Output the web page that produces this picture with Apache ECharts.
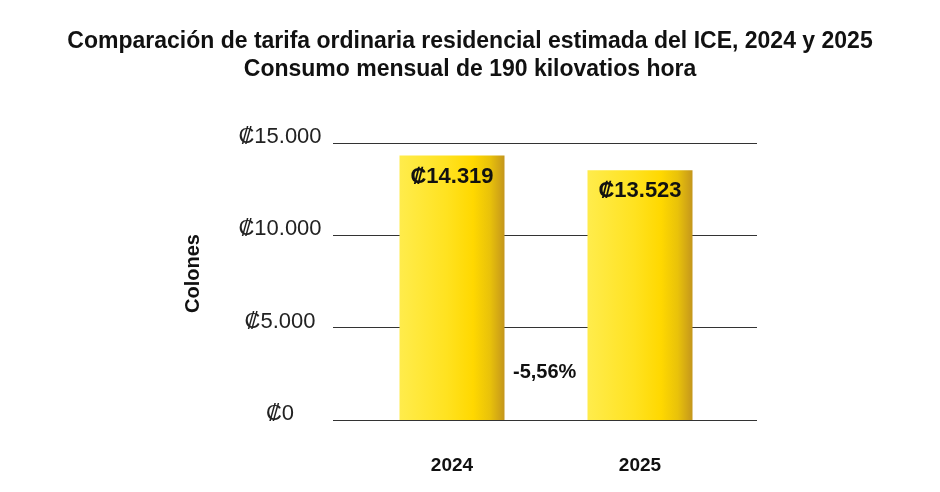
<!DOCTYPE html>
<html>
<head>
<meta charset="utf-8">
<script src="https://cdn.jsdelivr.net/npm/echarts@6/dist/echarts.min.js"></script>
<style>
  html, body { margin: 0; padding: 0; background: #fff; }
  #chart { width: 940px; height: 492px; }
</style>
</head>
<body>
<div id="chart"></div>
<script>
// data
const years = ['2024', '2025'];
const tarifa = [14319, 13523];
const yTicks = [0, 5000, 10000, 15000];

const fmt = (v) => '\u20A1' + v.toLocaleString('de-DE');
const pct = (tarifa[1] - tarifa[0]) / tarifa[0] * 100;
const pctTxt = pct.toFixed(2).replace('.', ',') + '%';

const font = '"Liberation Sans", Helvetica, Arial, sans-serif';

const dom = document.getElementById('chart');
const chart = echarts.init(dom, null, { renderer: 'canvas' });

const barColor = new echarts.graphic.LinearGradient(0, 0, 1, 0, [
    { offset: 0, color: '#FFEC4C' },
    { offset: 0.45, color: '#FFE220' },
    { offset: 0.7, color: '#FFD800' },
    { offset: 0.86, color: '#E9C20A' },
    { offset: 1, color: '#C4961C' }
]);

const option = {
    backgroundColor: '#fff',
    animation: false,
    title: {
        text: 'Comparación de tarifa ordinaria residencial estimada del ICE, 2024 y 2025\nConsumo mensual de 190 kilovatios hora',
        left: 'center',
        top: 23,
        textStyle: {
            fontFamily: font,
            fontWeight: 'bold',
            fontSize: 23,
            lineHeight: 28,
            color: '#111'
        }
    },
    grid: [
        { left: 333, width: 424, top: 143, height: 277 },
        { left: 358, width: 376, top: 143, height: 277 }
    ],
    xAxis: [
        {
            gridIndex: 0, type: 'category', data: years,
            show: false
        },
        {
            gridIndex: 1, type: 'category', data: years,
            axisLine: { show: false },
            axisTick: { show: false },
            axisLabel: {
                margin: 36,
                fontFamily: font, fontWeight: 'bold', fontSize: 19, color: '#111'
            }
        }
    ],
    yAxis: [
        {
            gridIndex: 0, type: 'value', min: 0, max: 15000, interval: 5000,
            name: 'Colones',
            nameLocation: 'middle',
            nameGap: 130,
            nameRotate: 90,
            nameTextStyle: {
                fontFamily: font, fontWeight: 'bold', fontSize: 20, color: '#111',
                padding: [0, 0, 0, 16]
            },
            axisLine: { show: false },
            axisTick: { show: false },
            axisLabel: {
                align: 'center',
                verticalAlign: 'bottom',
                lineHeight: 12,
                margin: 53,
                fontFamily: font, fontSize: 22, color: '#222',
                formatter: (v) => yTicks.includes(v) ? fmt(v) : ''
            },
            splitLine: { lineStyle: { color: '#333', width: 1.2 } }
        },
        {
            gridIndex: 1, type: 'value', min: 0, max: 15000, interval: 5000,
            show: false
        }
    ],
    series: [
        {
            type: 'bar',
            xAxisIndex: 1,
            yAxisIndex: 1,
            data: tarifa,
            barWidth: 105,
            itemStyle: { color: barColor },
            label: {
                show: true,
                position: 'insideTop',
                distance: 10,
                fontFamily: font, fontWeight: 'bold', fontSize: 22, color: '#111',
                formatter: (p) => fmt(p.value)
            },
            z: 3
        }
    ],
    graphic: [
        {
            type: 'text',
            left: 513,
            top: 362,
            style: {
                text: pctTxt,
                fontFamily: font, fontWeight: 'bold', fontSize: 20, fill: '#111'
            }
        }
    ]
};

chart.setOption(option);
window.addEventListener('resize', chart.resize);
</script>
</body>
</html>
